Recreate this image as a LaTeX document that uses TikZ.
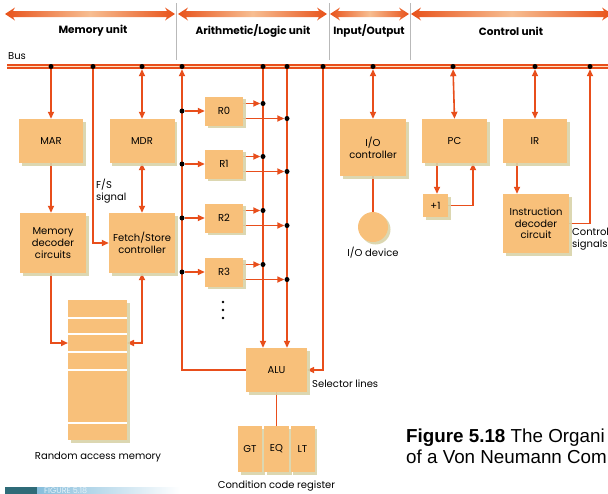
\documentclass[tikz,border=0pt]{standalone}
\usepackage{fontspec}
\setmainfont{Poppins}
\newfontfamily\capfont{Liberation Sans}
\usetikzlibrary{arrows.meta,shadows,calc}
\pgfdeclarelayer{bg}
\pgfsetlayers{bg,main}
\definecolor{orl}{HTML}{E84E1B}
\definecolor{boxc}{HTML}{F8C07A}
\definecolor{orD}{HTML}{E8521A}
\definecolor{orM}{HTML}{F7BE92}
\definecolor{shc}{HTML}{D8D3A8}
\definecolor{tealD}{HTML}{2F6B78}
\definecolor{bluL}{HTML}{86BEDC}
\newcommand{\hdrarr}[2]{\shade[left color=orD, right color=orD, middle color=orM]
  (#1,14) -- (#1+10,7.5) -- (#1+8,11) -- (#2-8,11) -- (#2-10,7.5) -- (#2,14)
  -- (#2-10,20.5) -- (#2-8,17) -- (#1+8,17) -- (#1+10,20.5) -- cycle;}
\begin{document}
\begin{tikzpicture}[x=1pt,y=-1pt,
  conn/.style={draw=orl, line width=1.6pt},
  ar/.style={conn, -{Triangle[length=7pt,width=6pt]}},
  dar/.style={conn, {Triangle[length=7pt,width=6pt]}-{Triangle[length=7pt,width=6pt]}},
  blk/.style={fill=boxc, draw=none, inner sep=0pt, align=center,
    font=\fontsize{10}{11.7}\selectfont,
    drop shadow={shadow xshift=2.5pt, shadow yshift=-2.5pt, fill=shc, opacity=0.9}},
  jdot/.style={circle, fill=black, inner sep=0pt, minimum size=5pt},
  lbl/.style={inner sep=0pt, font=\fontsize{10}{12}\selectfont},
  hd/.style={font=\bfseries\fontsize{10.5}{12}\selectfont, inner sep=0pt},
  capt/.style={anchor=base west, inner sep=0pt, font=\capfont\fontsize{18.8}{21}\selectfont}
]
\useasboundingbox (0,0) rectangle (608,493);
\clip (0,0) rectangle (608,493);

% header
\hdrarr{5}{175}
\hdrarr{178}{327}
\hdrarr{330}{409}
\hdrarr{411}{612}
\foreach \x in {176,329,410} \draw[gray!55, line width=0.6pt] (\x,3) -- (\x,60);
\node[hd] (hmem) at (93,31) {Memory unit};
\node[hd] (halu) at (253,31) {Arithmetic/Logic unit};
\node[hd] (hio) at (369,31) {Input/Output};
\node[hd] (hcu) at (511,31) {Control unit};

% bus
\node[lbl, anchor=west] (buslbl) at (8,56) {Bus};
\begin{pgfonlayer}{bg}
\draw[orl, line width=5.5pt] (7,66.5) -- (612,66.5);
\draw[white!75!orange, line width=1.1pt] (7,66.5) -- (612,66.5);
\end{pgfonlayer}
\foreach \n/\x in {b1/51,b2/93,b3/142,b4/182,b5/263,b6/287,b7/323,b8/373,b9/453,b10/535,b11/590}
  \node[jdot] (\n) at (\x,66.5) {};

% memory unit
\node[blk, minimum width=64pt, minimum height=44pt] (MAR) at (51,141) {MAR};
\node[blk, minimum width=65pt, minimum height=44pt] (MDR) at (142,141) {MDR};
\node[blk, minimum width=66pt, minimum height=60pt] (MD) at (53,243) {Memory\\decoder\\circuits};
\node[blk, minimum width=66pt, minimum height=60pt] (FS) at (142,243) {Fetch/Store\\controller};
\node[lbl, anchor=west, align=left, font=\fontsize{10}{12.5}\selectfont] (fslbl) at (96,191) {F/S\\signal};
\node[blk, minimum width=59pt, minimum height=140pt] (ram) at (97.5,370) {};
\foreach \y in {318,334,352,370,423} \draw[white, line width=1.3pt] (68,\y) -- (127,\y);
\node[lbl] (ramlbl) at (98,457) {Random access memory};
\coordinate (ramL) at (68,343);
\coordinate (ramR) at (127,343);

% registers
\foreach \i/\y in {0/111,1/164,2/218,3/272}{
  \node[blk, minimum width=38pt, minimum height=29pt] (R\i) at (224,\y) {R\i};
  \node[jdot] (j\i) at (182,\y) {};
  \node[jdot] (u\i) at (263,\y-7.5) {};
  \node[jdot] (l\i) at (287,\y+7.5) {};
}
\foreach \y in {302,310,318} \fill (223,\y) circle (1.3pt);

% ALU
\node[blk, minimum width=61pt, minimum height=44pt] (ALU) at (276.5,370) {ALU};
\node[lbl, anchor=west] (sellbl) at (312,384) {Selector lines};
\node[blk, minimum width=24pt, minimum height=46pt] (GT) at (250,449) {GT};
\node[blk, minimum width=25pt, minimum height=46pt] (EQ) at (276.5,449) {EQ};
\node[blk, minimum width=24pt, minimum height=46pt] (LT) at (302.5,449) {LT};
\node[lbl] (ccrlbl) at (276.5,486) {Condition code register};

% I/O
\node[blk, minimum width=66pt, minimum height=57pt] (IOC) at (373,147.5) {I/O\\controller};
\node[blk, circle, minimum size=30pt] (dev) at (373,227) {};
\node[lbl] (devlbl) at (373,253) {I/O device};

% control unit
\node[blk, minimum width=65pt, minimum height=44pt] (PC) at (454.5,141) {PC};
\node[blk, minimum width=25pt, minimum height=23pt] (inc) at (435.5,205.5) {+1};
\node[blk, minimum width=64pt, minimum height=44pt] (IR) at (535,141) {IR};
\node[blk, minimum width=66pt, minimum height=59pt] (IDC) at (536,223.5) {Instruction\\decoder\\circuit};
\node[lbl, anchor=west, align=left, font=\fontsize{10}{12}\selectfont] (ctllbl) at (572,239) {Control\\signals};

% caption
\node[capt] (cap1) at (406,442) {\textbf{Figure 5.18} The Organi};
\node[capt] (cap2) at (406,463.5) {of a Von Neumann Com};
\shade[left color=bluL, right color=white] (37,487) rectangle (180,494);
\fill[tealD] (5,487) rectangle (37,494);
\node[anchor=north west, inner sep=0pt, text=white!80!bluL, font=\fontsize{8}{9}\selectfont] (figtag) at (44,487.5) {FIGURE 5.18};

% connectors
\begin{pgfonlayer}{bg}
\draw[ar] (b1) -- (MAR.north);
\draw[ar] (b2) |- (FS.west);
\draw[dar] (b3) -- (MDR.north);
\draw[ar] (ALU.west) -| (b4);
\draw[ar] (b5) -- (b5 |- ALU.north);
\draw[ar] (b6) -- (b6 |- ALU.north);
\draw[ar] (b7) |- (ALU.east);
\foreach \i in {0,1,2,3}{
  \draw[ar] (j\i) -- (R\i.west);
  \draw[ar] (R\i.east |- u\i) -- (u\i);
  \draw[ar] (R\i.east |- l\i) -- (l\i);
}
\draw[conn] (ALU.south) -- (EQ.north);
\draw[ar] (MAR.south) -- (MAR.south |- MD.north);
\draw[dar] (MDR.south) -- (MDR.south |- FS.north);
\draw[ar] (MAR.south |- MD.south) |- (ramL);
\draw[dar] (ramR) -| (FS.south);
\draw[dar] (b8) -- (IOC.north);
\draw[conn] (IOC.south) -- (dev.north);
\draw[dar] (b9) -- (PC.north);
\draw[ar] ([xshift=1.5pt]inc.north |- PC.south) -- ([xshift=1.5pt]inc.north);
\draw[ar] (inc.east) -| ([xshift=18.5pt]PC.south);
\draw[dar] (b10) -- (IR.north);
\draw[ar] ([xshift=-18pt]IR.south) -- ([xshift=-18pt]IR.south |- IDC.north);
\draw[ar] (IDC.east) -| (b11);
\end{pgfonlayer}
\end{tikzpicture}
\end{document}
